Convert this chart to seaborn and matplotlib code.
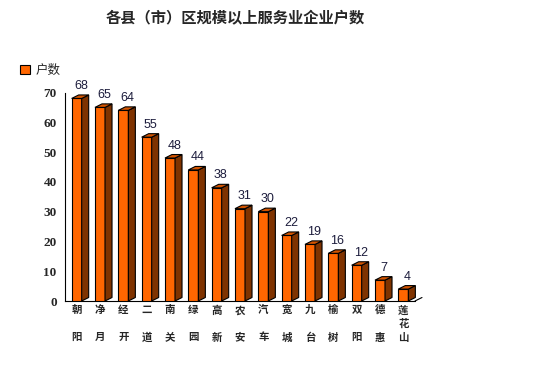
import matplotlib
matplotlib.use("Agg")
import matplotlib.pyplot as plt
import seaborn as sns
import pandas as pd
from matplotlib.patches import Polygon, Patch

districts = ["朝阳", "净月", "经开", "二道", "南关", "绿园", "高新", "农安",
             "汽车", "宽城", "九台", "榆树", "双阳", "德惠", "莲花山"]
counts = [68, 65, 64, 55, 48, 44, 38, 31, 30, 22, 19, 16, 12, 7, 4]
y_ticks = [0, 10, 20, 30, 40, 50, 60, 70]


def stack_label(name):
    # characters written top to bottom, two-char names keep a blank middle row
    if len(name) == 2:
        return name[0] + "\n\n" + name[1]
    return "\n".join(name)


def main():
    sns.set_theme(style="white")
    plt.rcParams['font.family'] = ['Noto Sans CJK SC', 'DejaVu Sans']

    df = pd.DataFrame({"区域": districts, "户数": counts})

    fig = plt.figure(figsize=(5.55, 3.66), dpi=100)
    ax = fig.add_axes([65 / 555, 65 / 366, 350 / 555, 208.5 / 366])

    front, side, top = "#FF6600", "#7F3300", "#D35400"
    sns.barplot(data=df, x="区域", y="户数", color=front, width=0.43,
                edgecolor="black", linewidth=0.8, saturation=1, ax=ax, zorder=3)

    ax.set_xlim(-0.5, len(districts) - 0.5)
    ax.set_ylim(0, 70)

    # depth of the fake 3D faces, in pixels -> data units
    px_x = (ax.get_xlim()[1] - ax.get_xlim()[0]) / 350
    px_y = (ax.get_ylim()[1] - ax.get_ylim()[0]) / 208.5
    dx, dy = 7 * px_x, 3.5 * px_y

    for bar, v in zip(ax.patches, counts):
        x0 = bar.get_x()
        x1 = x0 + bar.get_width()
        h = bar.get_height()
        ax.add_patch(Polygon([(x1, 0), (x1 + dx, dy), (x1 + dx, h + dy), (x1, h)],
                             closed=True, facecolor=side, edgecolor="black",
                             linewidth=0.8, zorder=3, clip_on=False))
        ax.add_patch(Polygon([(x0, h), (x0 + dx, h + dy), (x1 + dx, h + dy), (x1, h)],
                             closed=True, facecolor=top, edgecolor="black",
                             linewidth=0.8, zorder=3, clip_on=False))
        ax.text((x0 + x1) / 2 + dx * 0.6, h + dy + 1.0, str(v),
                ha="center", va="bottom", fontsize=9, color="#1c1c3c",
                family=["Liberation Sans", "DejaVu Sans"], zorder=4, clip_on=False)

    # floor edge at the end of the x axis
    xe = ax.get_xlim()[1]
    ax.plot([xe, xe + dx], [0, dy], color="black", linewidth=0.8, clip_on=False)

    ax.set_xticks(range(len(districts)))
    ax.set_xticklabels([stack_label(d) for d in districts], fontsize=7.5,
                       fontweight="bold", linespacing=1.45, va="top")
    ax.set_yticks(y_ticks)
    ax.set_yticklabels([str(t) for t in y_ticks], fontsize=9.5, fontweight="bold",
                       family=["Liberation Serif", "DejaVu Serif"])
    ax.tick_params(axis="y", direction="out", length=4, width=0.8, color="black", pad=2)
    ax.tick_params(axis="x", length=0, pad=3)
    ax.set_xlabel("")
    ax.set_ylabel("")

    for s in ["top", "right"]:
        ax.spines[s].set_visible(False)
    for s in ["left", "bottom"]:
        ax.spines[s].set_color("black")
        ax.spines[s].set_linewidth(0.8)
    ax.grid(False)

    fig.text(0.424, 0.953, "各县（市）区规模以上服务业企业户数", ha="center", va="center",
             fontsize=11, fontweight="bold")

    handle = Patch(facecolor=front, edgecolor="black", linewidth=0.8)
    fig.legend([handle], ["户数"], loc="center left", bbox_to_anchor=(0.025, 0.808),
               frameon=False, fontsize=9, handlelength=0.8, handleheight=0.8,
               handletextpad=0.4, borderpad=0)

    fig.savefig("out.png", dpi=100, facecolor="white")


if __name__ == "__main__":
    main()
